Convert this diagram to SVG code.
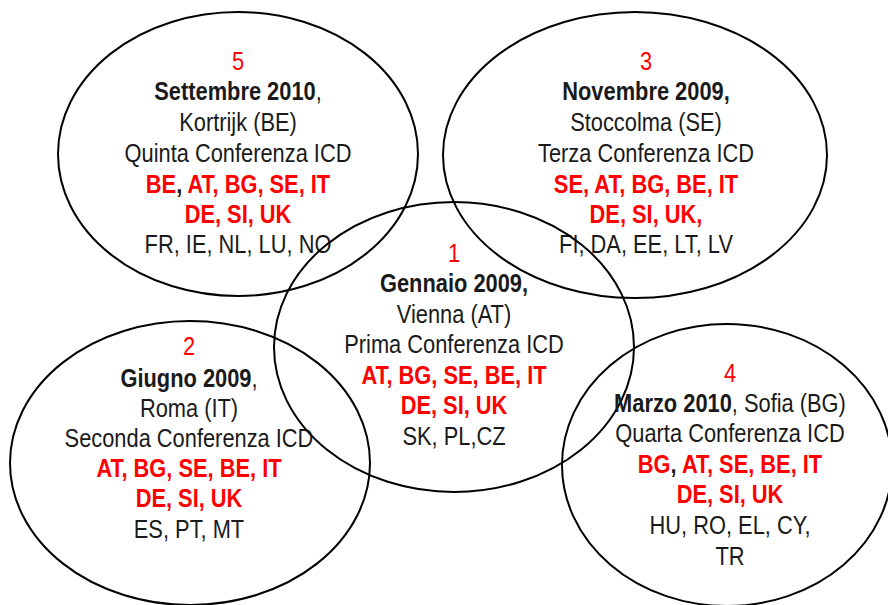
<svg xmlns="http://www.w3.org/2000/svg" width="888" height="605" viewBox="0 0 888 605">
<style>
.e{fill:none;stroke:#000;stroke-width:2}
text{font-family:"Liberation Sans",Arial,sans-serif;font-size:26px;text-anchor:middle;fill:#1a1a1a}
.r{fill:#ff0000}
.b{font-weight:bold}
.k{fill:#1a1a1a}
</style>
<rect width="888" height="605" fill="#fff"/>
<g id="connectors"></g>
<g id="n5">
<ellipse class="e" cx="238" cy="154" rx="180" ry="142"/>
<g transform="translate(238,0) scale(0.84,1)">
<text x="0" y="70" class="r">5</text>
<text x="0" y="100"><tspan class="b">Settembre 2010</tspan>,</text>
<text x="0" y="131">Kortrijk (BE)</text>
<text x="0" y="162">Quinta Conferenza ICD</text>
<text x="0" y="193" class="b r">BE<tspan class="k">,</tspan> AT, BG, SE, IT</text>
<text x="0" y="223" class="b r">DE, SI, UK</text>
<text x="0" y="253">FR, IE, NL, LU, NO</text>
</g>
</g>
<g id="n3">
<ellipse class="e" cx="635" cy="155" rx="192" ry="143"/>
<g transform="translate(646,0) scale(0.84,1)">
<text x="0" y="70" class="r">3</text>
<text x="0" y="100" class="b">Novembre 2009,</text>
<text x="0" y="131">Stoccolma (SE)</text>
<text x="0" y="162">Terza Conferenza ICD</text>
<text x="0" y="193" class="b r">SE, AT, BG, BE, IT</text>
<text x="0" y="223" class="b r">DE, SI, UK,</text>
<text x="0" y="253">FI, DA, EE, LT, LV</text>
</g>
</g>
<g id="n1">
<ellipse class="e" cx="454" cy="347" rx="180" ry="145"/>
<g transform="translate(454,0) scale(0.84,1)">
<text x="0" y="262" class="r">1</text>
<text x="0" y="292" class="b">Gennaio 2009,</text>
<text x="0" y="323">Vienna (AT)</text>
<text x="0" y="353">Prima Conferenza ICD</text>
<text x="0" y="384" class="b r">AT, BG, SE, BE, IT</text>
<text x="0" y="414" class="b r">DE, SI, UK</text>
<text x="0" y="445">SK, PL,CZ</text>
</g>
</g>
<g id="n2">
<ellipse class="e" cx="190" cy="463" rx="180" ry="142"/>
<g transform="translate(189,0) scale(0.84,1)">
<text x="0" y="355" class="r">2</text>
<text x="0" y="387"><tspan class="b">Giugno 2009</tspan>,</text>
<text x="0" y="417">Roma (IT)</text>
<text x="0" y="447">Seconda Conferenza ICD</text>
<text x="0" y="477" class="b r">AT, BG, SE, BE, IT</text>
<text x="0" y="507" class="b r">DE, SI, UK</text>
<text x="0" y="538">ES, PT, MT</text>
</g>
</g>
<g id="n4">
<ellipse class="e" cx="727" cy="465" rx="165" ry="141"/>
<g transform="translate(730,0) scale(0.84,1)">
<text x="0" y="382" class="r">4</text>
<text x="0" y="412"><tspan class="b">Marzo 2010</tspan>, Sofia (BG)</text>
<text x="0" y="442">Quarta Conferenza ICD</text>
<text x="0" y="473" class="b r">BG<tspan class="k">,</tspan> AT, SE, BE, IT</text>
<text x="0" y="503" class="b r">DE, SI, UK</text>
<text x="0" y="534">HU, RO, EL, CY,</text>
<text x="0" y="565">TR</text>
</g>
</g>
</svg>
